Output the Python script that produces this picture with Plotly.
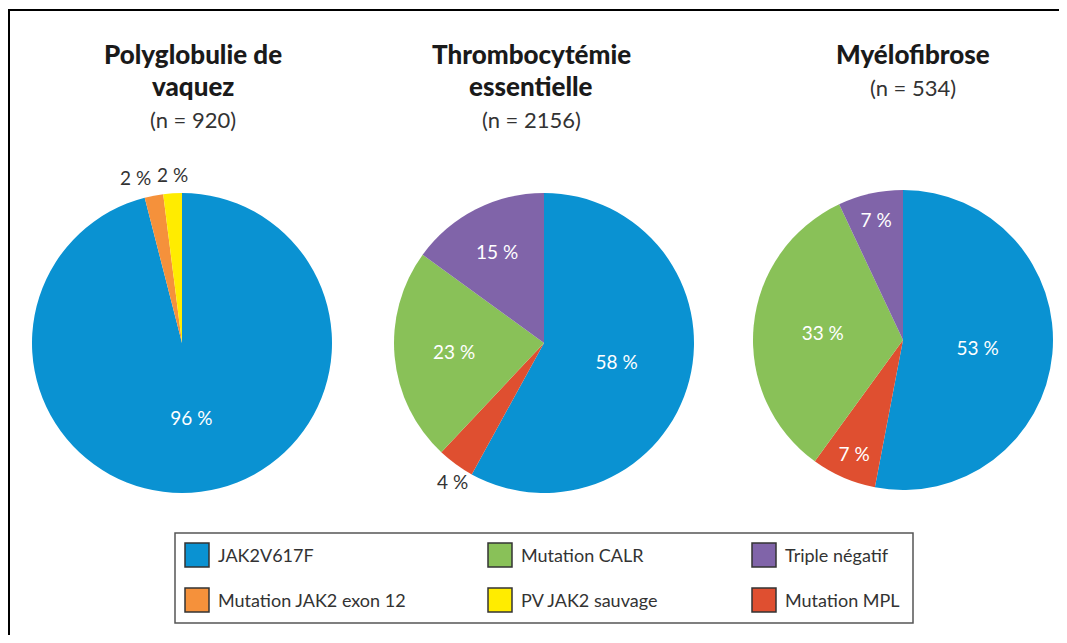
import math
import plotly.graph_objects as go

# Page body has an 8px margin: figure sits at (8, 8) inside the 1067x643 window.
OFF = 8
WF, HF = 1067 - OFF, 643 - 2 * OFF

# ---- data ----
legend_labels = ["JAK2V617F", "Mutation CALR", "Triple négatif",
                 "Mutation JAK2 exon 12", "PV JAK2 sauvage", "Mutation MPL"]
colors = {
    "JAK2V617F": "#0a92d2",
    "Mutation JAK2 exon 12": "#f5913b",
    "PV JAK2 sauvage": "#ffec00",
    "Mutation CALR": "#89c158",
    "Triple négatif": "#8064a9",
    "Mutation MPL": "#df4f30",
}

pv_labels = ["JAK2V617F", "Mutation JAK2 exon 12", "PV JAK2 sauvage"]
pv_values = [96, 2, 2]
te_labels = ["JAK2V617F", "Mutation MPL", "Mutation CALR", "Triple négatif"]
te_values = [58, 4, 23, 15]
mf_labels = ["JAK2V617F", "Mutation MPL", "Mutation CALR", "Triple négatif"]
mf_values = [53, 7, 33, 7]

titles = [["Polyglobulie de", "vaquez"], ["Thrombocytémie", "essentielle"], ["Myélofibrose"]]
counts = ["(n = 920)", "(n = 2156)", "(n = 534)"]

FONT = "Lato"
SMALL = 4  # slices at or below this value get their label outside


def px(x):
    return (x - OFF) / WF


def py(y):
    return 1 - (y - OFF) / HF


# pie geometry in window pixels (center x, center y, radius)
pies = [
    (pv_labels, pv_values, (182, 343, 150)),
    (te_labels, te_values, (544, 343, 150)),
    (mf_labels, mf_values, (903, 340, 150)),
]

fig = go.Figure()
annotations = []
for labels, values, (cx, cy, r) in pies:
    tmpl = ["" if v <= SMALL else "%{value} %" for v in values]
    fig.add_trace(go.Pie(
        labels=labels, values=values,
        marker=dict(colors=[colors[l] for l in labels], line=dict(width=0)),
        sort=False, direction="clockwise", rotation=0,
        texttemplate=tmpl, textposition="inside",
        insidetextorientation="horizontal",
        textfont=dict(family=FONT, size=19, color="white"),
        domain=dict(x=[px(cx - r), px(cx + r)], y=[py(cy + r), py(cy - r)]),
        showlegend=False, hoverinfo="label+percent",
    ))
    # outside labels for the thin slices, placed from the slice mid-angle
    total = float(sum(values))
    cum = 0.0
    for v in values:
        mid = (cum + v / 2) / total * 2 * math.pi
        cum += v
        if v > SMALL:
            continue
        s, c = math.sin(mid), math.cos(mid)
        lx = cx + (r + 5) * s
        ly = cy - (r + 5) * c
        xa = "right" if (s < -0.15 and c > 0) else "center"
        ya = "bottom" if c > 0 else "top"
        annotations.append(dict(x=px(lx), y=py(ly), xref="paper", yref="paper",
                                text="%g %%" % v, showarrow=False,
                                font=dict(family=FONT, size=19, color="#333333"),
                                xanchor=xa, yanchor=ya))

title_x = [193, 531, 913]
for i, lines in enumerate(titles):
    y = 54
    for ln in lines:
        annotations.append(dict(x=px(title_x[i]), y=py(y), xref="paper", yref="paper",
                                text=ln, showarrow=False,
                                font=dict(family=FONT, size=26, color="#1a1a1a", weight=900),
                                xanchor="center", yanchor="middle"))
        y += 32
    annotations.append(dict(x=px(title_x[i]), y=py(y + 2), xref="paper", yref="paper",
                            text=counts[i], showarrow=False,
                            font=dict(family=FONT, size=22, color="#333333"),
                            xanchor="center", yanchor="middle"))

shapes = []
# outer frame (top and left only)
shapes.append(dict(type="line", xref="paper", yref="paper", x0=px(OFF), x1=1,
                   y0=py(10), y1=py(10), line=dict(color="black", width=2)))
shapes.append(dict(type="line", xref="paper", yref="paper", x0=px(OFF + 1), x1=px(OFF + 1),
                   y0=py(10), y1=0, line=dict(color="black", width=2)))
# legend box
shapes.append(dict(type="rect", xref="paper", yref="paper", x0=px(175), x1=px(913),
                   y0=py(623), y1=py(533), line=dict(color="#555555", width=1.5)))

col_sw = [185, 488, 752]
row_y = [555, 600]
for i, lab in enumerate(legend_labels):
    c = i % 3
    rw = i // 3
    x0 = col_sw[c]
    yc = row_y[rw]
    shapes.append(dict(type="rect", xref="paper", yref="paper",
                       x0=px(x0), x1=px(x0 + 24), y0=py(yc + 12), y1=py(yc - 12),
                       fillcolor=colors[lab], line=dict(color="#333333", width=1.5)))
    annotations.append(dict(x=px(x0 + 31), y=py(yc), xref="paper", yref="paper",
                            text=lab, showarrow=False,
                            font=dict(family=FONT, size=18, color="#333333"),
                            xanchor="left", yanchor="middle"))

fig.update_layout(
    width=WF, height=HF,
    margin=dict(l=0, r=0, t=0, b=0),
    paper_bgcolor="white", plot_bgcolor="white",
    annotations=annotations, shapes=shapes,
    showlegend=False,
)

fig.write_html("out.html")
